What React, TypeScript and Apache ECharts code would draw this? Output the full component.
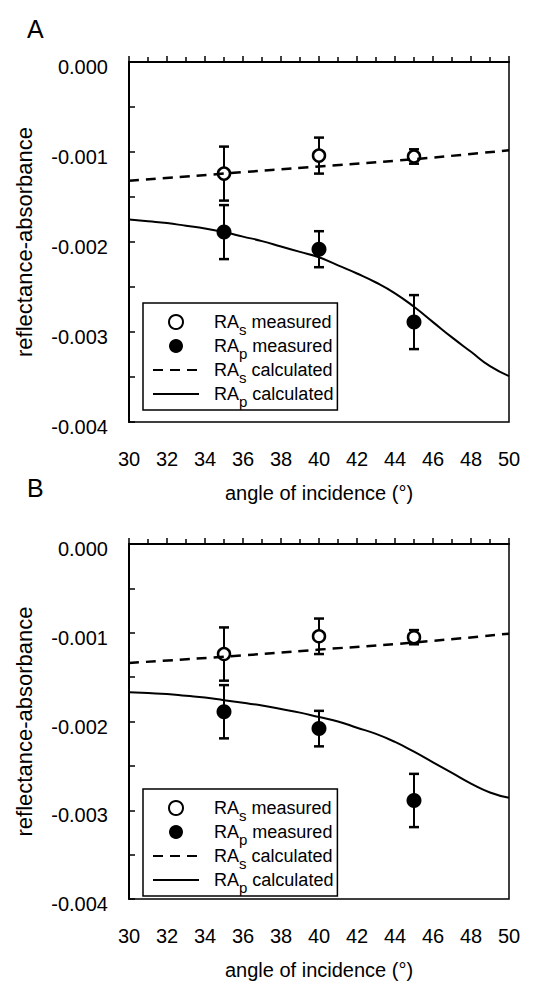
import React, { useEffect, useRef } from "react";
import * as echarts from "echarts";

// ---------- data ----------
const measuredAngles = [35, 40, 45];
const rasMeasured = [-0.00124, -0.00104, -0.00105];
const rasError = [0.0003, 0.0002, 0.00008];
const rapMeasured = [-0.00189, -0.00208, -0.00289];
const rapError = [0.0003, 0.0002, 0.0003];

const dashedAngles = [30, 35, 40, 45, 50];
const rasCalcA = [-0.00132, -0.00124, -0.00116, -0.00108, -0.00098];
const rasCalcB = [-0.00134, -0.00127, -0.00119, -0.00111, -0.00101];

const solidAngles = [30, 31, 32, 33, 34, 35, 36, 37, 38, 39, 40, 41, 42, 43, 44, 45, 46, 47, 48, 49, 50];
const rapCalcA = [
  -0.00175, -0.00177, -0.00179, -0.00182, -0.00185, -0.00189, -0.00194, -0.00199, -0.00205, -0.00211,
  -0.00217, -0.00226, -0.00235, -0.00245, -0.00257, -0.00272, -0.00289, -0.00306, -0.00322, -0.00338, -0.00349,
];
const rapCalcB = [
  -0.00167, -0.00168, -0.00169, -0.00171, -0.00173, -0.00176, -0.00179, -0.00182, -0.00186, -0.0019,
  -0.00195, -0.002, -0.00207, -0.00214, -0.00223, -0.00234, -0.00246, -0.00258, -0.0027, -0.0028, -0.00286,
];

const xTicks = { min: 30, max: 50, interval: 2 };
const yTicks = { min: -0.004, max: 0, interval: 0.001 };
const panelLetters = ["A", "B"];
const legendNames = ["RAs measured", "RAp measured", "RAs calculated", "RAp calculated"];
const legendParts: Record<string, [string, string]> = {
  "RAs measured": ["s", "measured"],
  "RAp measured": ["p", "measured"],
  "RAs calculated": ["s", "calculated"],
  "RAp calculated": ["p", "calculated"],
};

// ---------- option ----------
const FONT = '"Liberation Sans", Arial, Helvetica, sans-serif';
const grids = [
  { left: 129, top: 62, width: 380, height: 360 },
  { left: 129, top: 544, width: 380, height: 360 },
];
const legendTops = [303, 789];
const letterTops = [11, 470];

function zip(xs: number[], ys: number[]) {
  return xs.map((x, i) => [x, ys[i]]);
}
function errData(xs: number[], ys: number[], es: number[]) {
  return xs.map((x, i) => [x, ys[i] - es[i], ys[i] + es[i]]);
}

function renderErr(params: any, api: any) {
  const x = api.value(0);
  const lo = api.coord([x, api.value(1)]);
  const hi = api.coord([x, api.value(2)]);
  const w = 5;
  const st = { stroke: "#000", lineWidth: 2 };
  return {
    type: "group",
    children: [
      { type: "line", shape: { x1: lo[0], y1: lo[1], x2: hi[0], y2: hi[1] }, style: st },
      { type: "line", shape: { x1: lo[0] - w, y1: lo[1], x2: lo[0] + w, y2: lo[1] }, style: { stroke: "#000", lineWidth: 2.5 } },
      { type: "line", shape: { x1: hi[0] - w, y1: hi[1], x2: hi[0] + w, y2: hi[1] }, style: { stroke: "#000", lineWidth: 2.5 } },
    ],
  };
}

function buildOption() {
  const xAxis: any[] = [];
  const yAxis: any[] = [];
  const series: any[] = [];
  const legend: any[] = [];
  const title: any[] = [];
  const rasCalc = [rasCalcA, rasCalcB];
  const rapCalc = [rapCalcA, rapCalcB];

  grids.forEach((g, i) => {
    xAxis.push({
      type: "value",
      gridIndex: i,
      min: xTicks.min,
      max: xTicks.max,
      interval: xTicks.interval,
      axisLine: { show: true, lineStyle: { color: "#000", width: 2 } },
      axisTick: { show: true, inside: true, length: 6, lineStyle: { color: "#000", width: 1.5 } },
      minorTick: { show: true, splitNumber: 2, length: 5, lineStyle: { color: "#000", width: 1.5 } },
      splitLine: { show: false },
      axisLabel: { color: "#000", fontSize: 20, fontFamily: FONT, margin: 27 },
      name: "angle of incidence (°)",
      nameLocation: "middle",
      nameGap: 61,
      nameTextStyle: { color: "#000", fontSize: 20, fontFamily: FONT },
    });
    yAxis.push({
      type: "value",
      gridIndex: i,
      min: yTicks.min,
      max: yTicks.max,
      interval: yTicks.interval,
      axisLine: { show: true, lineStyle: { color: "#000", width: 2 } },
      axisTick: { show: true, inside: true, length: 6, lineStyle: { color: "#000", width: 1.5 } },
      minorTick: { show: true, splitNumber: 2, length: 6, lineStyle: { color: "#000", width: 1.5 } },
      splitLine: { show: false },
      axisLabel: {
        color: "#000",
        fontSize: 20,
        fontFamily: FONT,
        margin: 21,
        verticalAlign: "top",
        lineHeight: 10,
        formatter: (v: number) => v.toFixed(3),
      },
      name: "reflectance-absorbance",
      nameLocation: "middle",
      nameRotate: 90,
      nameGap: 94,
      nameTextStyle: { color: "#000", fontSize: 22, fontFamily: FONT },
    });
    title.push({
      text: panelLetters[i],
      left: 22,
      top: letterTops[i],
      textStyle: { fontSize: 25, fontWeight: "normal", color: "#000", fontFamily: FONT },
    });
    legend.push({
      orient: "vertical",
      left: 143,
      top: legendTops[i],
      padding: [4, 4, 1, 9],
      itemGap: -6,
      itemWidth: 46,
      itemHeight: 14,
      borderColor: "#000",
      borderWidth: 1.5,
      backgroundColor: "#fff",
      data: legendNames,
      selectedMode: false,
      formatter: (name: string) => {
        const [sub, word] = legendParts[name];
        return `{m0|RA}{s|${sub}}{m| ${word}}`;
      },
      textStyle: {
        color: "#000",
        fontFamily: FONT,
        fontSize: 18,
        rich: {
          m0: { fontSize: 18, fontFamily: FONT, color: "#000", lineHeight: 24, padding: [3, 0, 3, 10] },
          m: { fontSize: 18, fontFamily: FONT, color: "#000", lineHeight: 24, padding: [3, 0, 3, 0] },
          s: { fontSize: 15, fontFamily: FONT, color: "#000", lineHeight: 15, padding: [15, 0, 0, 0] },
        },
      },
    });

    series.push({
      name: "err-s-" + i,
      type: "custom",
      xAxisIndex: i,
      yAxisIndex: i,
      renderItem: renderErr,
      encode: { x: 0, y: [1, 2] },
      data: errData(measuredAngles, rasMeasured, rasError),
      z: 1,
    });
    series.push({
      name: "err-p-" + i,
      type: "custom",
      xAxisIndex: i,
      yAxisIndex: i,
      renderItem: renderErr,
      encode: { x: 0, y: [1, 2] },
      data: errData(measuredAngles, rapMeasured, rapError),
      z: 1,
    });
    series.push({
      name: "RAs measured",
      type: "scatter",
      xAxisIndex: i,
      yAxisIndex: i,
      symbol: "circle",
      symbolSize: 12,
      itemStyle: { color: "#fff", borderColor: "#000", borderWidth: 2.5, opacity: 1 },
      data: zip(measuredAngles, rasMeasured),
      z: 2,
    });
    series.push({
      name: "RAp measured",
      type: "scatter",
      xAxisIndex: i,
      yAxisIndex: i,
      symbol: "circle",
      symbolSize: 15,
      itemStyle: { color: "#000", opacity: 1 },
      data: zip(measuredAngles, rapMeasured),
      z: 2,
    });
    series.push({
      name: "RAs calculated",
      type: "line",
      xAxisIndex: i,
      yAxisIndex: i,
      symbol: "none",
      smooth: true,
      itemStyle: { color: "rgba(0,0,0,0)", borderWidth: 0 },
      lineStyle: { color: "#000", width: 2.5, type: [10, 7] },
      data: zip(dashedAngles, rasCalc[i]),
      z: 3,
    });
    series.push({
      name: "RAp calculated",
      type: "line",
      xAxisIndex: i,
      yAxisIndex: i,
      symbol: "none",
      smooth: true,
      itemStyle: { color: "rgba(0,0,0,0)", borderWidth: 0 },
      lineStyle: { color: "#000", width: 2, type: "solid" },
      data: zip(solidAngles, rapCalc[i]),
      z: 3,
    });
  });

  return {
    animation: false,
    backgroundColor: "#fff",
    textStyle: { fontFamily: FONT },
    title,
    legend,
    grid: grids.map((g) => ({ ...g, show: true, borderColor: "#000", borderWidth: 1.5, backgroundColor: "transparent" })),
    xAxis,
    yAxis,
    series,
  };
}

export default function App() {
  const ref = useRef<HTMLDivElement>(null);
  useEffect(() => {
    if (!ref.current) return;
    const chart = echarts.init(ref.current, null, { renderer: "svg" });
    chart.setOption(buildOption() as any);
    return () => chart.dispose();
  }, []);
  return (
    <div
      ref={ref}
      style={{ position: "absolute", left: 0, top: 0, width: 551, height: 981, background: "#fff" }}
    />
  );
}
